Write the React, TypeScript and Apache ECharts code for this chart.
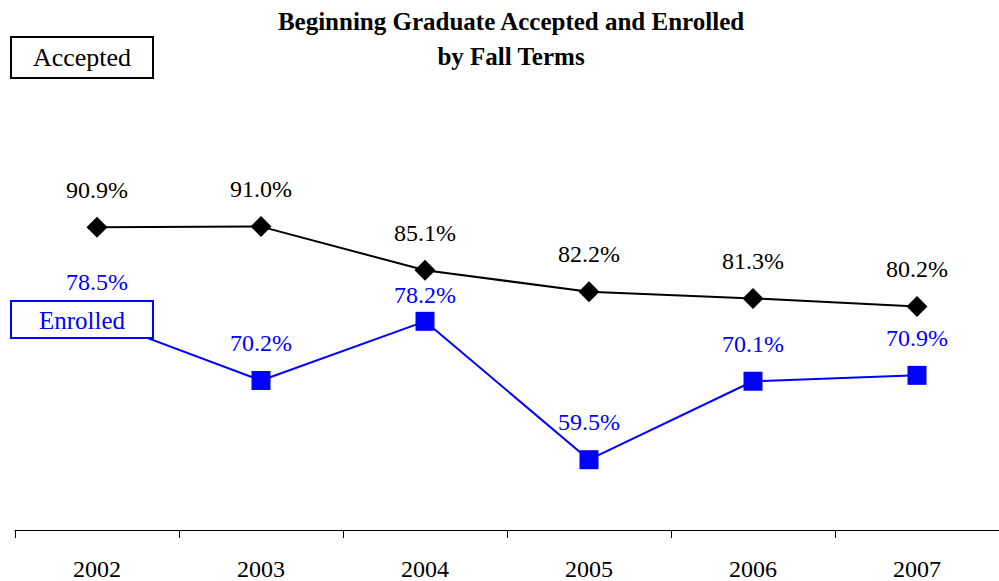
import React, { useEffect, useRef } from "react";
import * as echarts from "echarts";

const years = ["2002", "2003", "2004", "2005", "2006", "2007"];
const accepted = [90.9, 91.0, 85.1, 82.2, 81.3, 80.2];
const enrolled = [78.5, 70.2, 78.2, 59.5, 70.1, 70.9];
const titleLines = ["Beginning Graduate Accepted and Enrolled", "by Fall Terms"];
const seriesNames = ["Accepted", "Enrolled"];

const FONT = "'Liberation Serif', 'Times New Roman', serif";

export default function App() {
  const ref = useRef<HTMLDivElement>(null);
  useEffect(() => {
    if (!ref.current) return;
    const chart = echarts.init(ref.current, undefined, { renderer: "svg" });
    const labelFmt = (p: any) => `${Number(p.value).toFixed(1)}%`;
    chart.setOption({
      animation: false,
      backgroundColor: "#fff",
      title: {
        text: titleLines.join("\n"),
        left: 511,
        top: 4,
        padding: 0,
        textAlign: "center",
        textStyle: {
          fontFamily: FONT,
          fontWeight: "bold",
          fontSize: 25,
          lineHeight: 35,
          color: "#000",
        },
      },
      grid: { left: 15, right: -3, top: 160, bottom: 45 },
      xAxis: {
        type: "category",
        data: years,
        boundaryGap: true,
        axisLine: { show: true, lineStyle: { color: "#000", width: 1 } },
        axisTick: { show: true, inside: false, length: 8, lineStyle: { color: "#000" } },
        axisLabel: { margin: 27, fontFamily: FONT, fontSize: 24, color: "#000" },
        splitLine: { show: false },
      },
      yAxis: {
        type: "value",
        min: 50,
        max: 100,
        show: false,
        splitLine: { show: false },
      },
      series: [
        {
          name: seriesNames[0],
          type: "line",
          data: accepted,
          symbol: "diamond",
          symbolSize: 21,
          lineStyle: { color: "#000", width: 2 },
          itemStyle: { color: "#000" },
          label: {
            show: true,
            position: "top",
            distance: 15,
            formatter: labelFmt,
            fontFamily: FONT,
            fontSize: 24,
            color: "#000",
          },
        },
        {
          name: seriesNames[1],
          type: "line",
          data: enrolled.map((v, i) => (i === 2 ? { value: v, label: { distance: 5 } } : v)),
          symbol: "rect",
          symbolSize: 19,
          lineStyle: { color: "#0000ff", width: 2 },
          itemStyle: { color: "#0000ff" },
          label: {
            show: true,
            position: "top",
            distance: 16,
            formatter: labelFmt,
            fontFamily: FONT,
            fontSize: 24,
            color: "#0000ff",
          },
        },
      ],
      graphic: [
        {
          type: "group",
          z: 100,
          left: 10,
          top: 36,
          children: [
            {
              type: "rect",
              z: 100,
              shape: { x: 0, y: 0, width: 142, height: 41 },
              style: { fill: "#fff", stroke: "#000", lineWidth: 2 },
            },
            {
              type: "text",
              z: 101,
              x: 71,
              y: 20,
              style: {
                text: seriesNames[0],
                textAlign: "center",
                textVerticalAlign: "middle",
                fontFamily: FONT,
                fontSize: 26,
                fill: "#000",
              },
            },
          ],
        },
        {
          type: "group",
          z: 100,
          left: 10,
          top: 300,
          children: [
            {
              type: "rect",
              z: 100,
              shape: { x: 0, y: 0, width: 142, height: 37 },
              style: { fill: "#fff", stroke: "#0000ff", lineWidth: 2 },
            },
            {
              type: "text",
              z: 101,
              x: 71,
              y: 19,
              style: {
                text: seriesNames[1],
                textAlign: "center",
                textVerticalAlign: "middle",
                fontFamily: FONT,
                fontSize: 25,
                fill: "#0000ff",
              },
            },
          ],
        },
      ],
    });
    return () => chart.dispose();
  }, []);
  return (
    <div
      ref={ref}
      style={{ position: "absolute", left: 0, top: 0, width: 999, height: 581 }}
    />
  );
}
